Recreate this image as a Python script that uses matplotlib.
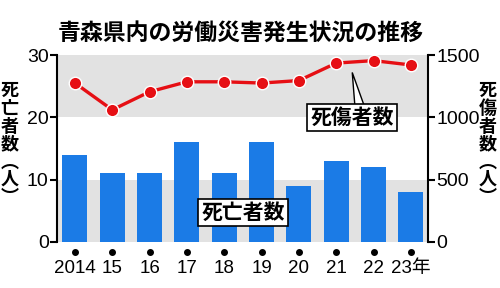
import matplotlib.pyplot as plt
from matplotlib.patches import Polygon
from matplotlib.transforms import blended_transform_factory

# data
years = ['2014', '15', '16', '17', '18', '19', '20', '21', '22', '23年']
deaths = [14, 11, 11, 16, 11, 16, 9, 13, 12, 8]
casualties = [1275, 1060, 1205, 1285, 1285, 1275, 1295, 1435, 1455, 1420]

title = '青森県内の労働災害発生状況の推移'
left_label = '死亡者数︵人︶'
right_label = '死傷者数︵人︶'

cjk = ['Noto Sans CJK JP', 'DejaVu Sans']
num = ['Liberation Sans Narrow', 'Liberation Sans', 'DejaVu Sans']
plt.rcParams['font.family'] = cjk

blue = '#1b7be6'
red = '#e60f14'
band = '#e2e2e2'

fig = plt.figure(figsize=(5, 2.88), dpi=100)
ax = fig.add_axes([57 / 500, 46 / 288, 371 / 500, 187 / 288])
ax2 = ax.twinx()

x = list(range(len(years)))

ax.axhspan(20, 30, color=band, zorder=0, lw=0)
ax.axhspan(0, 10, color=band, zorder=0, lw=0)
ax.bar(x, deaths, width=0.67, color=blue, zorder=2)
ax.set_xlim(-0.48, 9.46)
ax.set_ylim(0, 30)
ax.set_yticks([0, 10, 20, 30])

ax2.plot(x, casualties, '-o', color=red, lw=2.4, markersize=9,
         markeredgecolor='white', markeredgewidth=1, zorder=3)
ax2.set_ylim(0, 1500)
ax2.set_yticks([0, 500, 1000, 1500])

for a in (ax, ax2):
    a.spines['top'].set_visible(False)
    a.spines['bottom'].set_visible(False)
    a.spines['left'].set_linewidth(1.5)
    a.spines['right'].set_linewidth(1.5)
    a.tick_params(axis='y', direction='out', length=5, width=1.5, pad=1,
                  labelsize=14)
    for lab in a.get_yticklabels():
        lab.set_family(num)
ax.spines['right'].set_visible(False)
ax2.spines['left'].set_visible(False)

ax.set_xticks(x)
ax.set_xticklabels(years)
ax.tick_params(axis='x', length=0, pad=13, labelsize=13.5)
for lab in ax.get_xticklabels():
    lab.set_family(['Liberation Sans Narrow', 'Liberation Sans', 'Noto Sans CJK JP'])

# dots under the ticks
trans = blended_transform_factory(ax.transData, ax.transAxes)
ax.plot(x, [-0.053] * len(x), 'o', color='black', markersize=4,
        transform=trans, clip_on=False)

fig.text(0.482, 0.885, title, ha='center', va='center', fontsize=16.5,
         fontweight='bold')

fig.text(0.019, 0.50, '\n'.join(left_label), ha='center', va='center',
         fontsize=13, fontweight='semibold', linespacing=0.92)
fig.text(0.975, 0.50, '\n'.join(right_label), ha='center', va='center',
         fontsize=13, fontweight='semibold', linespacing=0.92)

box = dict(boxstyle='square,pad=0.15', fc='white', ec='black', lw=1.2)

# callout label for the line
lx, ly = 7.43, 1000
ax2.add_patch(Polygon([(lx, 1360), (lx + 0.08, 1060), (lx + 0.36, 1060)],
                      closed=True, fc='white', ec='black', lw=1.0, zorder=4))
ax2.text(lx, ly, '死傷者数', ha='center', va='center', fontsize=15,
         fontweight='bold', bbox=box, zorder=5)
ax2.text(4.5, 237, '死亡者数', ha='center', va='center',
         fontsize=15, fontweight='bold', bbox=box, zorder=5)

fig.savefig('out.png', dpi=100)
